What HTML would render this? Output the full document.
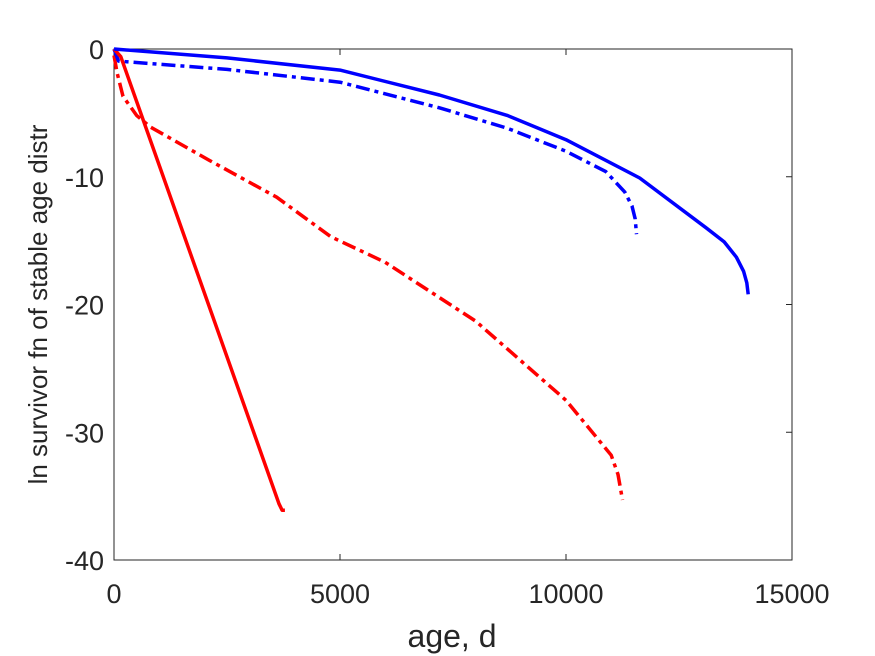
<!DOCTYPE html>
<html><head><meta charset="utf-8"><style>body{margin:0;background:#fff}svg{display:block;font-family:"Liberation Sans",sans-serif}</style></head>
<body>
<svg id="chart" width="875" height="656" viewBox="0 0 875 656"></svg>
<script>
const xTicks=[0,5000,10000,15000];
const yTicks=[0,-10,-20,-30,-40];
const blueSolidX=[0,2500,5000,7200,8700,10000,11630,13100,13500,13770,13930,14000,14030];
const blueSolidY=[0,-0.7,-1.65,-3.6,-5.2,-7.1,-10.1,-14.0,-15.1,-16.3,-17.4,-18.3,-19.2];
const blueDashX=[0,100,2500,5000,7200,8700,10000,10880,11300,11460,11530,11560];
const blueDashY=[0,-0.95,-1.6,-2.6,-4.6,-6.2,-8.0,-9.6,-11.2,-12.3,-13.3,-14.5];
const redSolidX=[0,150,3650,3720,3780];
const redSolidY=[0,-0.6,-35.6,-36.1,-36.1];
const redDashX=[0,70,200,500,800,2100,3600,4800,6000,8000,10000,11000,11150,11250];
const redDashY=[-0.5,-1.9,-3.7,-5.2,-6.1,-8.7,-11.6,-14.7,-16.7,-21.3,-27.5,-31.8,-33.3,-35.3];
const L=114,R=792,T=49,B=560;
const sx=v=>L+(v-0)/15000*(R-L);
const sy=v=>T+(0-v)/40*(B-T);
const svg=document.getElementById('chart');
const NS='http://www.w3.org/2000/svg';
function mk(tag,attrs,name,parent){const e=document.createElementNS(NS,tag);for(const k in attrs)e.setAttribute(k,attrs[k]);


(parent||svg).appendChild(e);return e;}
mk('rect',{x:L,y:T,width:R-L,height:B-T,fill:'#fff',stroke:'#262626','stroke-width':1},'plot-area');
xTicks.forEach(t=>{mk('line',{x1:sx(t),x2:sx(t),y1:B,y2:B-6,stroke:'#262626'},'x-tick');
mk('line',{x1:sx(t),x2:sx(t),y1:T,y2:T+6,stroke:'#262626'},'x-tick-top');
const tx=mk('text',{x:sx(t),y:603,'text-anchor':'middle','font-size':27,fill:'#262626'},'x-tick-label');tx.textContent=t;});
yTicks.forEach(t=>{mk('line',{x1:R,x2:R-6,y1:sy(t),y2:sy(t),stroke:'#262626'},'y-tick');
const tx=mk('text',{x:L-10,y:sy(t)+10,'text-anchor':'end','font-size':27,fill:'#262626'},'y-tick-label');tx.textContent=t;});
function series(xs,ys,color,dash,name){const d=xs.map((x,i)=>(i?'L':'M')+sx(x).toFixed(1)+','+sy(ys[i]).toFixed(1)).join('');
const a={d:d,fill:'none',stroke:color,'stroke-width':3.5,'stroke-linejoin':'round'};if(dash)a['stroke-dasharray']=dash;mk('path',a,name);}
series(redDashX,redDashY,'#ff0000','14,5,4,5','red-dashdot-line');
series(blueDashX,blueDashY,'#0000ff','14,5,4,5','blue-dashdot-line');
series(redSolidX,redSolidY,'#ff0000',null,'red-solid-line');
series(blueSolidX,blueSolidY,'#0000ff',null,'blue-solid-line');
const xl=mk('text',{x:452,y:647,'text-anchor':'middle','font-size':32,fill:'#262626'},'x-axis-title');xl.textContent='age, d';
const yl=mk('text',{x:0,y:0,'text-anchor':'middle','font-size':26,fill:'#262626',transform:'translate(47,'+((T+B)/2)+') rotate(-90)'},'y-axis-title');yl.textContent='ln survivor fn of stable age distr';
</script>
</body></html>
